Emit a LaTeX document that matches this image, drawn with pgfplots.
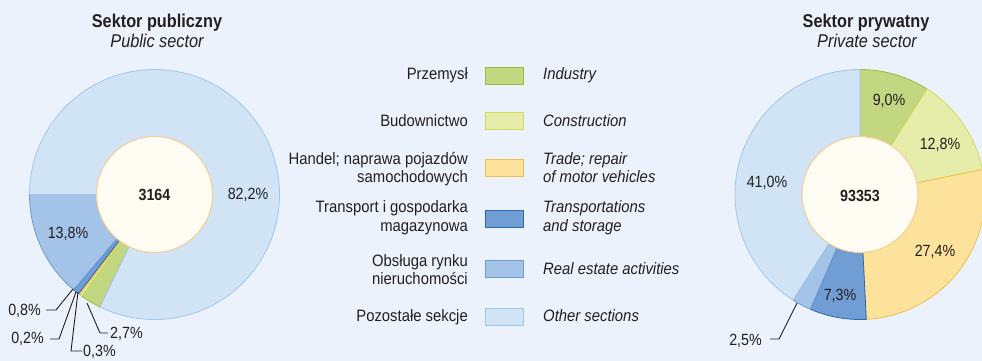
\documentclass[border=0pt]{standalone}
\usepackage{pgfplots}
\pgfplotsset{compat=1.18}
\usepackage{fontspec}
\setmainfont{Liberation Sans}[FakeStretch=0.88]
\newfontfamily\legfont{Liberation Sans}[FakeStretch=0.9]

\definecolor{bg}{RGB}{235,242,251}
\definecolor{txt}{RGB}{35,31,32}
\definecolor{indf}{RGB}{195,214,128}
\definecolor{indd}{RGB}{150,190,60}
\definecolor{conf}{RGB}{230,237,170}
\definecolor{cond}{RGB}{208,222,90}
\definecolor{traf}{RGB}{253,226,155}
\definecolor{trad}{RGB}{240,190,80}
\definecolor{trnf}{RGB}{111,157,212}
\definecolor{trnd}{RGB}{40,105,180}
\definecolor{ref}{RGB}{163,195,232}
\definecolor{red}{RGB}{110,155,210}
\definecolor{othf}{RGB}{208,228,246}
\definecolor{othd}{RGB}{160,200,236}
\definecolor{innf}{RGB}{255,253,243}
\definecolor{innd}{RGB}{247,208,155}

\newcommand\Ro{125pt}
\newcommand\Ri{58pt}
% one ring segment, angles in degrees, clockwise from #3 to #4
\newcommand\wedgeat[6]{%
  \filldraw[shift={(axis cs:#1,#2)}, fill=#5, draw=#6, line width=0.8pt, line join=round]
    (canvas polar cs:angle=#3,radius=\Ro) arc[start angle=#3, end angle=#4, radius=\Ro]
    -- (canvas polar cs:angle=#4,radius=\Ri) arc[start angle=#4, end angle=#3, radius=\Ri] -- cycle;}
% cx, cy, start angle, list of percent/fill/draw
\newcommand\donut[4]{%
  \pgfmathsetmacro\cur{#3}%
  \foreach \v/\f/\d in {#4} {%
    \pgfmathsetmacro\nxt{\cur-3.6*\v}%
    \edef\tmp{\noexpand\wedgeat{#1}{#2}{\cur}{\nxt}{\f}{\d}}%
    \tmp
    \global\let\cur\nxt
  }%
  \filldraw[fill=innf, draw=innd, line width=1.1pt] (axis cs:#1,#2) circle[radius=\Ri];
}

\newcommand\lab{\fontsize{16.2}{19}\selectfont}
\newcommand\leg{\legfont\fontsize{16.5}{19}\selectfont}
\newcommand\ttl{\fontsize{18.5}{22}\selectfont}

\begin{document}
\begin{tikzpicture}
\begin{axis}[
    name=ax,
    x=1pt, y=1pt,
    xmin=0, xmax=982, ymin=0, ymax=361,
    y dir=reverse,
    hide axis,
    at={(0,0)}, anchor=south west,
    clip=true,
]
\fill[bg] (axis cs:0,0) rectangle (axis cs:982,361);

% public sector
\donut{154.5}{194.5}{180-3.6*82.2}{2.7/indf/indd, 0.3/conf/cond, 0.2/traf/trad,
  0.8/trnf/trnd, 13.8/ref/red, 82.2/othf/othd}
% private sector
\donut{860}{194.5}{90}{9.0/indf/indd, 12.8/conf/cond, 27.4/traf/trad,
  7.3/trnf/trnd, 2.5/ref/red, 41.0/othf/othd}

% titles
\node[font=\ttl\bfseries, text=txt, anchor=base] at (axis cs:157,27.5) {Sektor publiczny};
\node[font=\ttl\itshape, text=txt, anchor=base] at (axis cs:157,47.5) {Public sector};
\node[font=\ttl\bfseries, text=txt, anchor=base] at (axis cs:866,27.5) {Sektor prywatny};
\node[font=\ttl\itshape, text=txt, anchor=base] at (axis cs:867,47.5) {Private sector};

% centre totals
\node[font=\lab\bfseries, text=txt] at (axis cs:154.5,195) {3164};
\node[font=\lab\bfseries, text=txt] at (axis cs:860,196) {93353};

% public labels
\node[font=\lab, text=txt] at (axis cs:248,195) {82,2\%};
\node[font=\lab, text=txt] at (axis cs:68,234) {13,8\%};
\node[font=\lab, text=txt, anchor=east, inner sep=0pt] at (axis cs:41,311) {0,8\%};
\node[font=\lab, text=txt, anchor=east, inner sep=0pt] at (axis cs:44,339) {0,2\%};
\node[font=\lab, text=txt, anchor=west, inner sep=0pt] at (axis cs:83,351.5) {0,3\%};
\node[font=\lab, text=txt, anchor=west, inner sep=0pt] at (axis cs:110,334) {2,7\%};
\draw[txt, line width=0.9pt] (axis cs:46,310) -- (axis cs:56,310) -- (axis cs:73,289);
\draw[txt, line width=0.9pt] (axis cs:50,339) -- (axis cs:59,339) -- (axis cs:76,292);
\draw[txt, line width=0.9pt] (axis cs:82,351) -- (axis cs:71,351) -- (axis cs:78,292);
\draw[txt, line width=0.9pt] (axis cs:87,303) -- (axis cs:100,333) -- (axis cs:108,333);

% private labels
\node[font=\lab, text=txt] at (axis cs:889,101) {9,0\%};
\node[font=\lab, text=txt] at (axis cs:940,145) {12,8\%};
\node[font=\lab, text=txt] at (axis cs:935,252) {27,4\%};
\node[font=\lab, text=txt] at (axis cs:840,296) {7,3\%};
\node[font=\lab, text=txt] at (axis cs:767,183) {41,0\%};
\node[font=\lab, text=txt, anchor=east, inner sep=0pt] at (axis cs:762,341) {2,5\%};
\draw[txt, line width=0.9pt] (axis cs:770,339) -- (axis cs:779,339) -- (axis cs:797,303);

% legend swatches
\filldraw[fill=indf, draw=indd, line width=0.9pt] (axis cs:485,67) rectangle (axis cs:523,84);
\filldraw[fill=conf, draw=cond, line width=0.9pt] (axis cs:485,112) rectangle (axis cs:523,129);
\filldraw[fill=traf, draw=trad, line width=0.9pt] (axis cs:485,159) rectangle (axis cs:523,176);
\filldraw[fill=trnf, draw=trnd, line width=0.9pt] (axis cs:485,210) rectangle (axis cs:523,227);
\filldraw[fill=ref, draw=red, line width=0.9pt] (axis cs:485,260) rectangle (axis cs:523,277);
\filldraw[fill=othf, draw=othd, line width=0.9pt] (axis cs:485,308) rectangle (axis cs:523,325);

% legend text, Polish
\path[font=\leg, text=txt, every node/.style={anchor=base east, inner sep=0pt}]
  (axis cs:468,80) node {Przemysł}
  (axis cs:468,126) node {Budownictwo}
  (axis cs:468,164) node {Handel; naprawa pojazdów}
  (axis cs:468,182.5) node {samochodowych}
  (axis cs:468,212.5) node {Transport i gospodarka}
  (axis cs:468,231) node {magazynowa}
  (axis cs:468,266) node {Obsługa rynku}
  (axis cs:468,284.5) node {nieruchomości}
  (axis cs:468,321.5) node {Pozostałe sekcje};
% legend text, English
\path[font=\leg\itshape, text=txt, every node/.style={anchor=base west, inner sep=0pt}]
  (axis cs:543,80) node {Industry}
  (axis cs:543,126) node {Construction}
  (axis cs:543,164) node {Trade; repair}
  (axis cs:543,182) node {of motor vehicles}
  (axis cs:543,212.5) node {Transportations}
  (axis cs:543,231) node {and storage}
  (axis cs:543,274.5) node {Real estate activities}
  (axis cs:543,321.5) node {Other sections};
\end{axis}
\pgfresetboundingbox
\path[use as bounding box] (ax.south west) rectangle (ax.north east);
\end{tikzpicture}
\end{document}
